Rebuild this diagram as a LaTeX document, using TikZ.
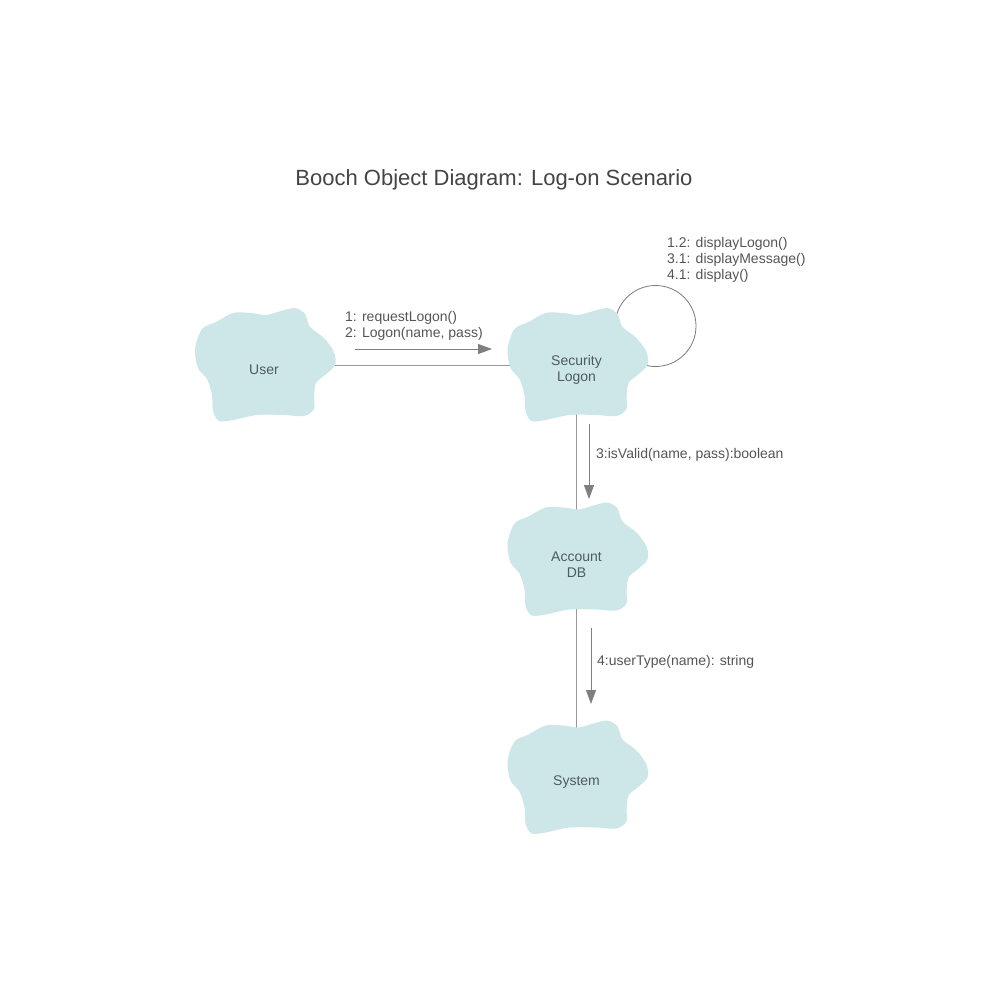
\documentclass[tikz,border=0pt]{standalone}
\usepackage{fontspec}
\setmainfont{Liberation Sans}
\usetikzlibrary{arrows.meta,calc}
\pgfdeclarelayer{bg}
\pgfdeclarelayer{mid}
\pgfsetlayers{bg,mid,main}
\definecolor{blobc}{HTML}{CDE7E9}
\definecolor{txt}{HTML}{555555}
\definecolor{ttl}{HTML}{444444}
\definecolor{ntxt}{HTML}{4F5B5C}
\definecolor{ln}{HTML}{999999}
\definecolor{arr}{HTML}{7F7F7F}
\newcommand\cloudat[1]{%
  \begin{pgfonlayer}{mid}
  \fill[blobc,shift={($(#1)+(0,-5)$)}] plot[smooth cycle,tension=0.5] coordinates{
    (-69,-16) (-62,-36) (-48,-43) (-31,-52) (-13,-52) (2,-50) (17,-54) (31,-57)
    (41,-51) (46,-38) (60,-27) (70,-13) (71,0) (61,10) (52,18) (50,32) (50,44)
    (40,51) (20,50) (-7,50) (-31,55) (-45,56) (-51,46) (-52,30) (-57,14) (-66,3)};
  \end{pgfonlayer}}
\tikzset{
  ntext/.style={font=\fontsize{14}{16}\selectfont, text=ntxt, align=center, inner sep=0pt},
  msg/.style={font=\fontsize{14}{16}\selectfont, text=txt, align=left, inner sep=0pt, anchor=west},
  conn/.style={draw=ln, line width=1pt},
  msgarrow/.style={draw=arr, line width=1pt, -{Triangle[length=14pt,width=10pt]}, arr},
}
\begin{document}
\begin{tikzpicture}[x=1pt,y=-1pt]
\useasboundingbox (0,0) rectangle (1000,1000);
\begin{pgfonlayer}{bg}
\fill[white] (0,0) rectangle (1000,1000);
\end{pgfonlayer}
\node[font=\fontsize{22}{26}\selectfont, text=ttl, inner sep=0pt] (title) at (494,180) {Booch Object Diagram: Log-on Scenario};

\node[ntext] (user) at (264,370) {User};
\node[ntext] (sec) at (576.5,370) {Security\\Logon};
\node[ntext] (acc) at (576.5,564.5) {Account\\DB};
\node[ntext] (sys) at (576.5,782.5) {System};

\cloudat{user}
\cloudat{sec}
\cloudat{acc}
\cloudat{sys}

\begin{pgfonlayer}{bg}
\draw[conn] ($(user)+(0,-5)$) -- ($(sec)+(0,-5)$);
\draw[conn] (sec) -- (acc);
\draw[conn] (acc) -- (sys);
\draw[draw=ln!80!black, line width=0.8pt] ($(sec)+(79,-44)$) circle[radius=40.5pt];
\end{pgfonlayer}

\coordinate (a1s) at (355,349);
\coordinate (a1e) at (492,349);
\coordinate (a3s) at (589,424);
\coordinate (a3e) at (589,499);
\coordinate (a4s) at (591,628);
\coordinate (a4e) at (591,704);
\draw[msgarrow] (a1s) -- (a1e);
\draw[msgarrow] (a3s) -- (a3e);
\draw[msgarrow] (a4s) -- (a4e);

\node[msg] (l1) at (345,325.5) {1: requestLogon()\\2: Logon(name, pass)};
\node[msg] (lself) at (667,259.5) {1.2: displayLogon()\\3.1: displayMessage()\\4.1: display()};
\node[msg] (l3) at (596,454.5) {3:isValid(name, pass):boolean};
\node[msg] (l4) at (597,661.5) {4:userType(name): string};
\end{tikzpicture}
\end{document}
